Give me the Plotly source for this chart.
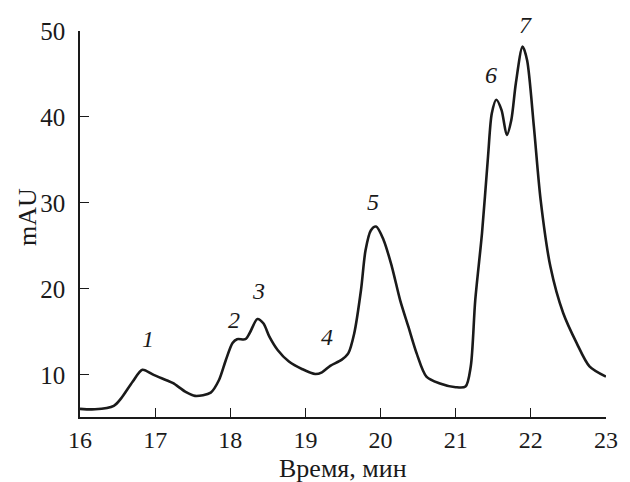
import plotly.graph_objects as go

# Chromatogram trace (time in min, signal in mAU)
time_min = [16.0, 16.2, 16.45, 16.55, 16.70, 16.83, 16.98, 17.16, 17.24, 17.40, 17.53, 17.74,
            17.85, 17.94, 18.03, 18.09, 18.20, 18.26, 18.36, 18.44, 18.52, 18.63, 18.78,
            18.96, 19.13, 19.22, 19.33, 19.48, 19.57, 19.65, 19.74, 19.80, 19.87, 19.94,
            20.04, 20.15, 20.26, 20.37, 20.48, 20.61, 20.78, 21.0, 21.13, 21.20, 21.26,
            21.35, 21.43, 21.48, 21.54, 21.61, 21.68, 21.74, 21.80, 21.89, 21.95, 22.04,
            22.13, 22.26, 22.43, 22.61, 22.78, 23.0]
signal_mau = [6.05, 6.0, 6.4, 7.3, 9.2, 10.6, 10.0, 9.34, 9.03, 8.06, 7.56, 7.94,
              9.4, 11.7, 13.7, 14.15, 14.15, 14.9, 16.5, 16.0, 14.45, 12.9, 11.55,
              10.66, 10.1, 10.3, 11.05, 11.75, 12.5, 14.85, 19.9, 24.5, 26.8, 27.25,
              25.7, 22.6, 18.7, 15.6, 12.5, 9.8, 9.03, 8.57, 8.64, 10.97, 18.7,
              26.5, 35.4, 40.4, 42.0, 40.8, 37.9, 39.65, 43.9, 48.2, 46.6, 38.9,
              30.35, 22.6, 17.2, 13.7, 11.0, 9.8]

# Peak labels (positions in data units)
peak_labels = ["1", "2", "3", "4", "5", "6", "7"]
peak_label_x = [16.9, 18.05, 18.37, 19.29, 19.90, 21.47, 21.93]
peak_label_y = [14.15, 16.4, 19.7, 14.4, 30.1, 44.9, 50.7]

x_ticks = [16, 17, 18, 19, 20, 21, 22, 23]
y_ticks = [10, 20, 30, 40, 50]
x_range = [16, 23]
y_range = [5.1, 50]

FONT = "Liberation Serif"
INK = "#1a1a1a"

fig = go.Figure()
fig.add_trace(go.Scatter(x=time_min, y=signal_mau, mode="lines",
                         line=dict(color=INK, width=2.6, shape="spline", smoothing=0.8),
                         hoverinfo="skip", showlegend=False))

# peak numbers: x in data units, y mapped through the y-axis range to paper units
# (so that label 7, just above the top of the axis, is still drawn)
for t, xv, yv in zip(peak_labels, peak_label_x, peak_label_y):
    fig.add_annotation(x=xv, xref="x",
                       y=(yv - y_range[0]) / (y_range[1] - y_range[0]), yref="paper",
                       text="<i>" + t + "</i>", showarrow=False,
                       font=dict(family=FONT, size=24, color=INK),
                       xanchor="center", yanchor="middle")

fig.add_annotation(x=-0.101, y=0.518, xref="paper", yref="paper", text="mAU",
                   showarrow=False, textangle=-90, xanchor="center", yanchor="middle",
                   font=dict(family=FONT, size=26, color=INK))
fig.add_annotation(x=0.5, y=-0.1334, xref="paper", yref="paper", text="Время, мин",
                   showarrow=False, xanchor="center", yanchor="middle",
                   font=dict(family=FONT, size=26, color=INK))

fig.update_layout(
    width=630, height=482,
    margin=dict(l=79.5, r=13, t=31, b=65),
    paper_bgcolor="white", plot_bgcolor="white",
    font=dict(family=FONT, size=24, color=INK),
    xaxis=dict(range=x_range, tickvals=x_ticks, ticks="inside", ticklen=9, tickwidth=1.3,
               tickcolor=INK, showline=True, linecolor=INK, linewidth=1.5,
               showgrid=False, zeroline=False, ticklabelstandoff=0,
               tickfont=dict(family=FONT, size=24, color=INK)),
    yaxis=dict(range=y_range, tickvals=y_ticks, ticks="inside", ticklen=9, tickwidth=1.3,
               tickcolor=INK, showline=True, linecolor=INK, linewidth=1.5,
               showgrid=False, zeroline=False, ticklabelstandoff=8,
               tickfont=dict(family=FONT, size=25, color=INK)),
)

fig.write_html("out.html")
